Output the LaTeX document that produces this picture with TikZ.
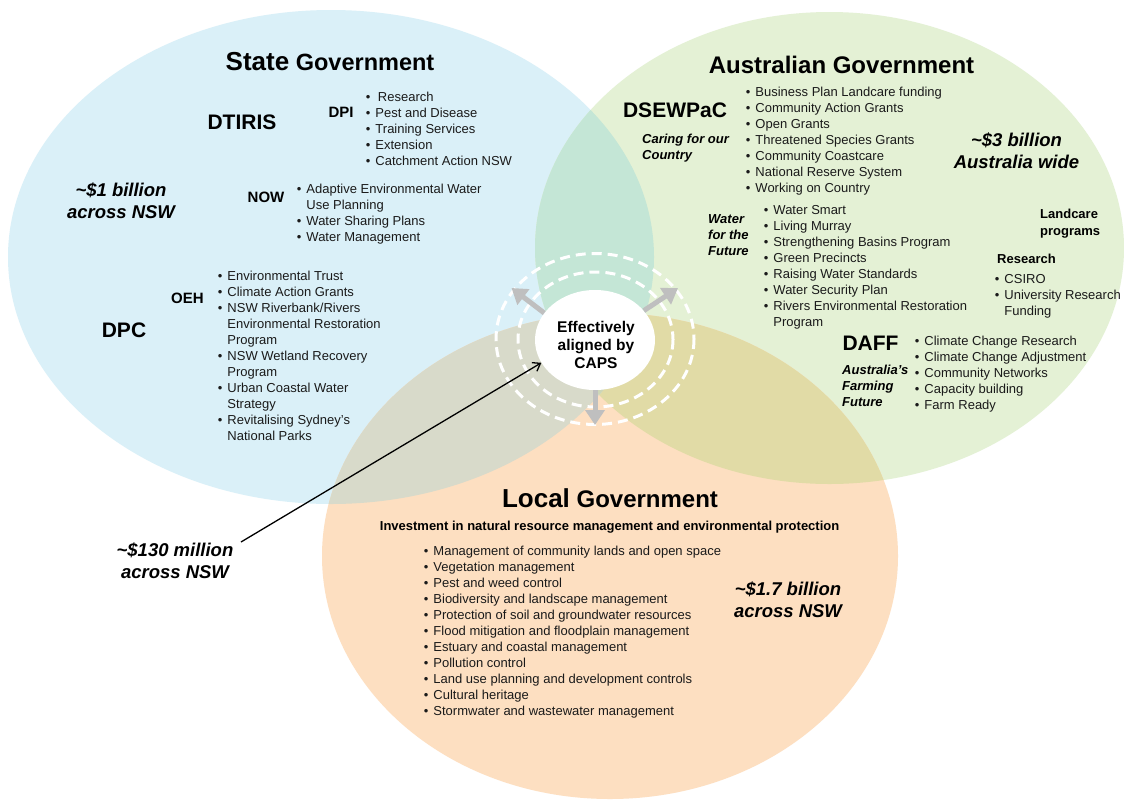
\documentclass[tikz,border=0pt]{standalone}
\usepackage{fontspec}
\setmainfont{Liberation Sans}
\usetikzlibrary{arrows.meta,shapes.geometric}
\definecolor{cblue}{HTML}{DAF0F8}
\definecolor{cgreen}{HTML}{E4F1D5}
\definecolor{corange}{HTML}{FDDFC1}
\definecolor{cbg}{HTML}{C4E6D6}
\definecolor{cbo}{HTML}{D8DACA}
\definecolor{cgo}{HTML}{E1DBA6}
\definecolor{cbgo}{HTML}{CDD6B8}
\definecolor{arrowgray}{HTML}{BFBFBF}
\definecolor{txt}{HTML}{1A1A1A}
\newcommand\bul{\textbullet}
\newcommand\blist[1]{\begin{tabular}{@{}l@{\hspace{5pt}}l@{}}#1\end{tabular}}
\newcommand\clines[1]{\begin{tabular}{@{}c@{}}#1\end{tabular}}
\newcommand\llines[1]{\begin{tabular}{@{}l@{}}#1\end{tabular}}
\begin{document}
\begin{tikzpicture}[x=1pt,y=-1pt,
  body/.style={font=\fontsize{13}{16}\selectfont, text=txt, inner sep=0pt, anchor=north west},
  hd/.style={font=\bfseries\fontsize{21}{25}\selectfont, inner sep=0pt, anchor=base},
  subhd/.style={font=\bfseries\fontsize{15}{18}\selectfont, inner sep=0pt, anchor=base},
  money/.style={font=\bfseries\itshape\fontsize{18.5}{22}\selectfont, inner sep=0pt, anchor=north},
  bi/.style={font=\bfseries\itshape\fontsize{13}{16}\selectfont, inner sep=0pt, anchor=north west},
  grayarrow/.style={draw=arrowgray, line width=5pt, -{Triangle[length=15pt,width=19pt]}},
  ring/.style={draw=white, line width=3pt, dash pattern=on 10pt off 6pt}]
\useasboundingbox (0,0) rectangle (1124,801);
\fill[white] (0,0) rectangle (1124,801);
% base ellipses
\fill[cblue] (331,257) ellipse [x radius=323, y radius=247];
\fill[cgreen] (829.5,248) ellipse [x radius=294.5, y radius=236];
\fill[corange] (610,556) ellipse [x radius=288, y radius=243];
% green & orange
\begin{scope}
  \clip (829.5,248) ellipse [x radius=294.5, y radius=236];
  \fill[cgo] (610,556) ellipse [x radius=288, y radius=243];
\end{scope}
% blue & others
\begin{scope}
  \clip (331,257) ellipse [x radius=323, y radius=247];
  \fill[cbg] (829.5,248) ellipse [x radius=294.5, y radius=236];
  \fill[cbo] (610,556) ellipse [x radius=288, y radius=243];
  \clip (829.5,248) ellipse [x radius=294.5, y radius=236];
  \fill[cbgo] (610,556) ellipse [x radius=288, y radius=243];
\end{scope}
% rings and centre
\draw[ring] (595,339) ellipse [x radius=99, y radius=85.5];
\draw[ring] (595.5,339.5) ellipse [x radius=77.5, y radius=67.5];
\node[ellipse, fill=white, minimum width=120pt, minimum height=100pt, inner sep=0pt] (caps) at (595,340) {};
\node[font=\bfseries\fontsize{15.5}{18.3}\selectfont, inner sep=0pt, anchor=north] (capstext) at (596,319) {\clines{Effectively\\aligned by\\CAPS}};
% arrows
\coordinate (ulend) at (511.5,288);
\coordinate (urend) at (678,288);
\coordinate (dnend) at (595,425);
\draw[grayarrow] (caps.152) -- (ulend);
\draw[grayarrow] (caps.31) -- (urend);
\draw[grayarrow] (caps.south) -- (dnend);
\coordinate (c130) at (241,542);
\draw[line width=1.3pt, -{Straight Barb[length=7pt,width=10pt]}] (c130) -- (caps.203.5);
% State Government
\node[font=\bfseries\fontsize{23.5}{28}\selectfont, inner sep=0pt, anchor=base] (stateT) at (330,70) {{\fontsize{26}{30}\selectfont State} Government};
\node[hd] (dtiris) at (242,129.2) {DTIRIS};
\node[subhd] (dpi) at (341,117) {DPI};
\node[body] (dpilist) at (365.7,89.8) {\blist{\bul & \hspace{2.5pt}Research\\ \bul & Pest and Disease\\ \bul & Training Services\\ \bul & Extension\\ \bul & Catchment Action NSW}};
\node[subhd] (now) at (266,202) {NOW};
\node[body] (nowlist) at (296.7,182.1) {\blist{\bul & Adaptive Environmental Water\\ & Use Planning\\ \bul & Water Sharing Plans\\ \bul & Water Management}};
\node[money] (m1) at (121,180.7) {\clines{\textasciitilde\$1 billion\\across NSW}};
\node[subhd] (oeh) at (187.5,303.4) {OEH};
\node[body] (oehlist) at (217.7,268.8) {\blist{\bul & Environmental Trust\\ \bul & Climate Action Grants\\ \bul & NSW Riverbank/Rivers\\ & Environmental Restoration\\ & Program\\ \bul & NSW Wetland Recovery\\ & Program\\ \bul & Urban Coastal Water\\ & Strategy\\ \bul & Revitalising Sydney’s\\ & National Parks}};
\node[hd] (dpc) at (124,337.5) {DPC};
% Australian Government
\node[font=\bfseries\fontsize{24}{28}\selectfont, inner sep=0pt, anchor=base] (ausT) at (841.5,73.6) {Australian Government};
\node[hd] (dsewpac) at (675,117.5) {DSEWPaC};
\node[bi] (caring) at (642,132.4) {\llines{Caring for our\\Country}};
\node[body] (dselist) at (745.7,84.8) {\blist{\bul & Business Plan Landcare funding\\ \bul & Community Action Grants\\ \bul & Open Grants\\ \bul & Threatened Species Grants\\ \bul & Community Coastcare\\ \bul & National Reserve System\\ \bul & Working on Country}};
\node[money] (m3) at (1016.5,130.7) {\clines{\textasciitilde\$3 billion\\Australia wide}};
\node[bi] (water) at (708,212.1) {\llines{Water\\for the\\Future}};
\node[body] (waterlist) at (763.7,203.1) {\blist{\bul & Water Smart\\ \bul & Living Murray\\ \bul & Strengthening Basins Program\\ \bul & Green Precincts\\ \bul & Raising Water Standards\\ \bul & Water Security Plan\\ \bul & Rivers Environmental Restoration\\ & Program}};
\node[font=\bfseries\fontsize{13}{17.5}\selectfont, inner sep=0pt, anchor=north west] (landcare) at (1040,206) {\llines{Landcare\\programs}};
\node[font=\bfseries\fontsize{13}{16}\selectfont, inner sep=0pt, anchor=base west] (research) at (997,263) {Research};
\node[body] (csirolist) at (994.7,272.4) {\blist{\bul & CSIRO\\ \bul & University Research\\ & Funding}};
\node[hd] (daff) at (870.5,350.2) {DAFF};
\node[bi] (ausfarm) at (842,363.1) {\llines{Australia’s\\Farming\\Future}};
\node[body] (dafflist) at (914.7,333.8) {\blist{\bul & Climate Change Research\\ \bul & Climate Change Adjustment\\ \bul & Community Networks\\ \bul & Capacity building\\ \bul & Farm Ready}};
% Local Government
\node[font=\bfseries\fontsize{24}{28}\selectfont, inner sep=0pt, anchor=base] (localT) at (610,507) {{\fontsize{26}{30}\selectfont Local} Government};
\node[font=\bfseries\fontsize{13}{16}\selectfont, inner sep=0pt, anchor=base] (invest) at (609.6,530.7) {Investment in natural resource management and environmental protection};
\node[body] (locallist) at (423.7,543.8) {\blist{\bul & Management of community lands and open space\\ \bul & Vegetation management\\ \bul & Pest and weed control\\ \bul & Biodiversity and landscape management\\ \bul & Protection of soil and groundwater resources\\ \bul & Flood mitigation and floodplain management\\ \bul & Estuary and coastal management\\ \bul & Pollution control\\ \bul & Land use planning and development controls\\ \bul & Cultural heritage\\ \bul & Stormwater and wastewater management}};
\node[money] (m17) at (788,580) {\clines{\textasciitilde\$1.7 billion\\across NSW}};
\node[money] (m130) at (175,540.7) {\clines{\textasciitilde\$130 million\\across NSW}};
\end{tikzpicture}
\end{document}
